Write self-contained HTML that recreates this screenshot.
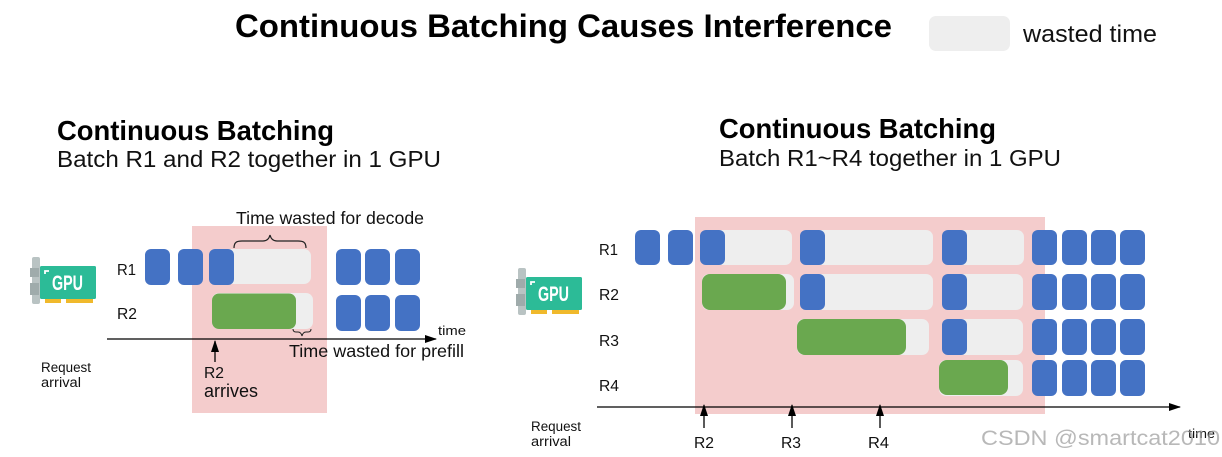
<!DOCTYPE html>
<html><head><meta charset="utf-8"><style>
html,body{margin:0;padding:0;background:#fff}
svg{display:block}
text{font-family:"Liberation Sans",sans-serif;fill:#111}
.b{fill:#4472c4}.g{fill:#6aa84f}.w{fill:#eeeeee}
.l{font-size:16px}
</style></head><body>
<svg width="1222" height="457" viewBox="0 0 1222 457" xmlns="http://www.w3.org/2000/svg">
<defs>
<g id="gpu">
<rect x="1" y="0" width="8" height="47" rx="2" fill="#b9c3c3"/>
<rect x="-1" y="11" width="9" height="9" fill="#9fabab"/>
<rect x="-1" y="26" width="9" height="12" fill="#9fabab"/>
<rect x="9" y="9" width="56" height="33" rx="1.5" fill="#2cbb97"/>
<rect x="14" y="42" width="16" height="4" fill="#f0b92c"/>
<rect x="35" y="42" width="27" height="4" fill="#f0b92c"/>
<path d="M14 17v-3h4" fill="none" stroke="#fff" stroke-width="1.8"/>
<text x="21" y="33" font-size="21" font-weight="700" style="fill:#fff" textLength="31" lengthAdjust="spacingAndGlyphs">GPU</text>
</g>
<marker id="a" markerWidth="12" markerHeight="9" refX="11" refY="4" orient="auto" markerUnits="userSpaceOnUse"><path d="M0 0L12 4L0 8z" fill="#000"/></marker>
</defs>

<text x="235" y="37" font-size="32" font-weight="700" textLength="657" lengthAdjust="spacingAndGlyphs" style="fill:#000">Continuous Batching Causes Interference</text>
<rect x="929" y="16" width="81" height="35" rx="7" fill="#eeeeee"/>
<text x="1023" y="42" font-size="24" textLength="134" lengthAdjust="spacingAndGlyphs">wasted time</text>

<!-- Left panel -->
<text x="57" y="140" font-size="28" font-weight="700" textLength="277" lengthAdjust="spacingAndGlyphs" style="fill:#000">Continuous Batching</text>
<text x="57" y="167" font-size="23" textLength="384" lengthAdjust="spacingAndGlyphs">Batch R1 and R2 together in 1 GPU</text>
<rect x="192" y="226" width="135" height="187" fill="#f4cccc"/>
<text x="236" y="224" font-size="17.500" textLength="188" lengthAdjust="spacingAndGlyphs">Time wasted for decode</text>
<path d="M234 248c0-6 3-7 8-7h21c4 0 6-2 7-6c1 4 3 6 7 6h21c5 0 8 1 8 7" fill="none" stroke="#222" stroke-width="1.2"/>
<use href="#gpu" x="31" y="257"/>
<text x="117" y="275" class="l" textLength="19" lengthAdjust="spacingAndGlyphs">R1</text>
<text x="117" y="319" class="l" textLength="20" lengthAdjust="spacingAndGlyphs">R2</text>
<rect class="b" x="145" y="249" width="25" height="36" rx="6"/>
<rect class="b" x="178" y="249" width="25" height="36" rx="6"/>
<rect class="w" x="209" y="249" width="102" height="35" rx="7"/>
<rect class="b" x="209" y="249" width="25" height="36" rx="6"/>
<rect class="b" x="336" y="249" width="25" height="36" rx="6"/>
<rect class="b" x="365" y="249" width="25" height="36" rx="6"/>
<rect class="b" x="395" y="249" width="25" height="36" rx="6"/>
<rect class="w" x="212" y="293" width="101" height="36" rx="7"/>
<rect class="g" x="212" y="293.500" width="84" height="35.500" rx="7"/>
<rect class="b" x="336" y="295" width="25" height="36" rx="6"/>
<rect class="b" x="365" y="295" width="25" height="36" rx="6"/>
<rect class="b" x="395" y="295" width="25" height="36" rx="6"/>
<path d="M293 329q0 3 3 3h2q3 0 4 4q1-4 4-4h2q3 0 3-3" fill="none" stroke="#222" stroke-width="1"/>
<line x1="107" y1="339" x2="436" y2="339" stroke="#000" stroke-width="1.3" marker-end="url(#a)"/>
<text x="438" y="335" font-size="13" textLength="28" lengthAdjust="spacingAndGlyphs">time</text>
<text x="289" y="357" font-size="17.500" textLength="175" lengthAdjust="spacingAndGlyphs">Time wasted for prefill</text>
<line x1="215" y1="362" x2="215" y2="341" stroke="#000" stroke-width="1.3" marker-end="url(#a)"/>
<text x="204" y="378" class="l" textLength="20" lengthAdjust="spacingAndGlyphs">R2</text>
<text x="204" y="397" font-size="18" textLength="54" lengthAdjust="spacingAndGlyphs">arrives</text>
<text x="41" y="372" font-size="13.500" textLength="50" lengthAdjust="spacingAndGlyphs">Request</text>
<text x="41" y="387" font-size="13.500" textLength="40" lengthAdjust="spacingAndGlyphs">arrival</text>

<!-- Right panel -->
<text x="719" y="138" font-size="28" font-weight="700" textLength="277" lengthAdjust="spacingAndGlyphs" style="fill:#000">Continuous Batching</text>
<text x="719" y="166" font-size="23" textLength="342" lengthAdjust="spacingAndGlyphs">Batch R1~R4 together in 1 GPU</text>
<rect x="695" y="217" width="350" height="197" fill="#f4cccc"/>
<use href="#gpu" x="517" y="268"/>
<text x="599" y="255" class="l" textLength="19" lengthAdjust="spacingAndGlyphs">R1</text>
<text x="599" y="300" class="l" textLength="20" lengthAdjust="spacingAndGlyphs">R2</text>
<text x="599" y="346" class="l" textLength="20" lengthAdjust="spacingAndGlyphs">R3</text>
<text x="599" y="391" class="l" textLength="20" lengthAdjust="spacingAndGlyphs">R4</text>

<!-- Row 1 -->
<rect class="b" x="635" y="230" width="25" height="35" rx="6"/>
<rect class="b" x="668" y="230" width="25" height="35" rx="6"/>
<rect class="w" x="700" y="230" width="92" height="35" rx="7"/>
<rect class="b" x="700" y="230" width="25" height="35" rx="6"/>
<rect class="w" x="800" y="230" width="133" height="35" rx="7"/>
<rect class="b" x="800" y="230" width="25" height="35" rx="6"/>
<rect class="w" x="942" y="230" width="82" height="35" rx="7"/>
<rect class="b" x="942" y="230" width="25" height="35" rx="6"/>
<!-- Row 2 -->
<rect class="w" x="702" y="274" width="92" height="36" rx="7"/>
<rect class="g" x="702" y="274" width="84" height="36" rx="8"/>
<rect class="w" x="800" y="274" width="133" height="36" rx="7"/>
<rect class="b" x="800" y="274" width="25" height="36" rx="6"/>
<rect class="w" x="942" y="274" width="81" height="36" rx="7"/>
<rect class="b" x="942" y="274" width="25" height="36" rx="6"/>
<!-- Row 3 -->
<rect class="w" x="797" y="319" width="132" height="36" rx="7"/>
<rect class="g" x="797" y="319" width="109" height="36" rx="8"/>
<rect class="w" x="942" y="319" width="81" height="36" rx="7"/>
<rect class="b" x="942" y="319" width="25" height="36" rx="6"/>
<!-- Row 4 -->
<rect class="w" x="939" y="360" width="84" height="36" rx="7"/>
<rect class="g" x="939" y="360" width="69" height="35" rx="8"/>
<!-- Blue columns -->
<g class="b">
<rect x="1032" y="230" width="25" height="35" rx="6"/><rect x="1062" y="230" width="25" height="35" rx="6"/><rect x="1091" y="230" width="25" height="35" rx="6"/><rect x="1120" y="230" width="25" height="35" rx="6"/>
<rect x="1032" y="274" width="25" height="36" rx="6"/><rect x="1062" y="274" width="25" height="36" rx="6"/><rect x="1091" y="274" width="25" height="36" rx="6"/><rect x="1120" y="274" width="25" height="36" rx="6"/>
<rect x="1032" y="319" width="25" height="36" rx="6"/><rect x="1062" y="319" width="25" height="36" rx="6"/><rect x="1091" y="319" width="25" height="36" rx="6"/><rect x="1120" y="319" width="25" height="36" rx="6"/>
<rect x="1032" y="360" width="25" height="36" rx="6"/><rect x="1062" y="360" width="25" height="36" rx="6"/><rect x="1091" y="360" width="25" height="36" rx="6"/><rect x="1120" y="360" width="25" height="36" rx="6"/>
</g>
<line x1="597" y1="407" x2="1180" y2="407" stroke="#000" stroke-width="1.3" marker-end="url(#a)"/>
<line x1="704" y1="428" x2="704" y2="405" stroke="#000" stroke-width="1.3" marker-end="url(#a)"/>
<line x1="792" y1="428" x2="792" y2="405" stroke="#000" stroke-width="1.3" marker-end="url(#a)"/>
<line x1="880" y1="428" x2="880" y2="405" stroke="#000" stroke-width="1.3" marker-end="url(#a)"/>
<text x="694" y="448" class="l" textLength="20" lengthAdjust="spacingAndGlyphs">R2</text>
<text x="781" y="448" class="l" textLength="20" lengthAdjust="spacingAndGlyphs">R3</text>
<text x="868" y="448" class="l" textLength="21" lengthAdjust="spacingAndGlyphs">R4</text>
<text x="531" y="431" font-size="13.500" textLength="50" lengthAdjust="spacingAndGlyphs">Request</text>
<text x="531" y="446" font-size="13.500" textLength="40" lengthAdjust="spacingAndGlyphs">arrival</text>
<text x="1188" y="438" font-size="13" textLength="27" lengthAdjust="spacingAndGlyphs">time</text>
<text x="981" y="445" font-size="21" textLength="239" lengthAdjust="spacingAndGlyphs" style="fill:#9a9a9a;fill-opacity:.7">CSDN @smartcat2010</text>
</svg>
</body></html>
